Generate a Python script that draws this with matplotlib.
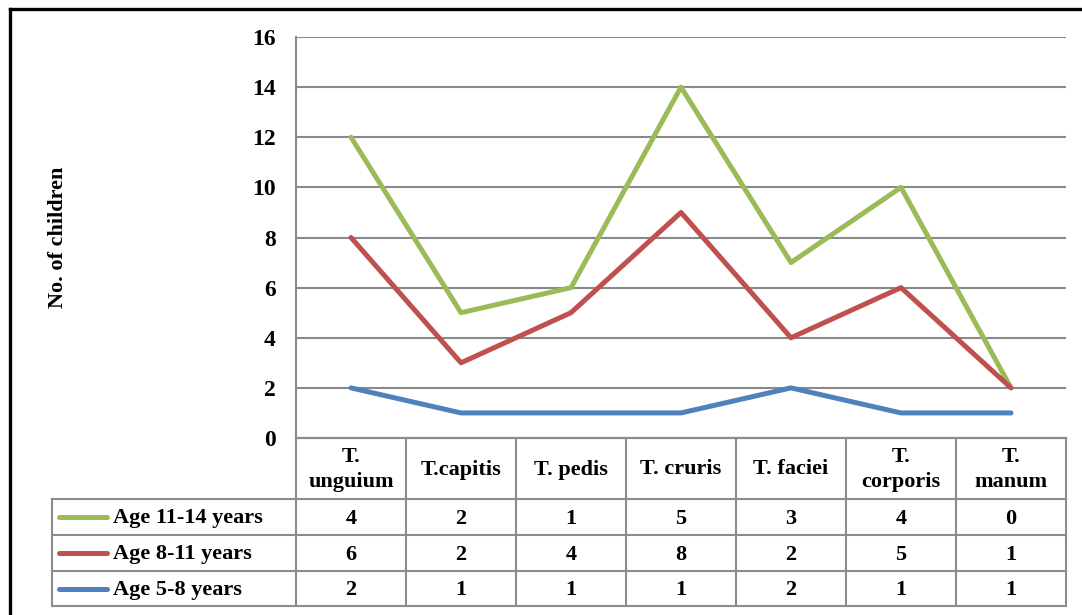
import matplotlib
matplotlib.use('Agg')
import matplotlib.pyplot as plt
import numpy as np

# ---- data ----
categories = ["T.\nunguium", "T.capitis", "T. pedis", "T. cruris", "T. faciei", "T.\ncorporis", "T.\nmanum"]
age_5_8 = [2, 1, 1, 1, 2, 1, 1]
age_8_11 = [6, 2, 4, 8, 2, 5, 1]
age_11_14 = [4, 2, 1, 5, 3, 4, 0]
series_labels = ["Age 11-14 years", "Age 8-11 years", "Age 5-8 years"]
series_colors = ["#9BBB59", "#C0504D", "#4F81BD"]
y_ticks = [0, 2, 4, 6, 8, 10, 12, 14, 16]
y_label = "No. of children"

plt.rcParams['font.family'] = ['Liberation Serif', 'DejaVu Serif']
plt.rcParams['font.weight'] = 'bold'

W, H = 1082, 615
fig = plt.figure(figsize=(W / 100, H / 100), dpi=100)

def fx(px):
    return px / W

def fy(py):
    return 1 - py / H

# layout (pixels)
PL, PR, PT, PB = 296, 1066, 37, 438
grid_c = "#898989"
tbl_c = "#8C8C8C"

ax = fig.add_axes([fx(PL), fy(PB), fx(PR) - fx(PL), fy(PT) - fy(PB)])
x = np.arange(len(categories))
s1 = np.array(age_5_8)
s2 = s1 + np.array(age_8_11)
s3 = s2 + np.array(age_11_14)
stacked = [s3, s2, s1]
for vals, col in zip(stacked, series_colors):
    ax.plot(x, vals, color=col, lw=3.6, solid_capstyle='round', solid_joinstyle='round', zorder=3)
ax.set_xlim(-0.5, len(categories) - 0.5)
ax.set_ylim(0, 16)
ax.set_yticks(y_ticks)
ax.set_yticklabels([str(v) for v in y_ticks], fontsize=17, fontweight='bold')
ax.tick_params(axis='y', length=0, pad=14.4)
ax.set_xticks([])
ax.grid(axis='y', color=grid_c, lw=1.5, zorder=1)
for sp in ['top', 'right']:
    ax.spines[sp].set_visible(False)
for sp in ['left', 'bottom']:
    ax.spines[sp].set_color(grid_c)
    ax.spines[sp].set_linewidth(1.5)

fig.text(fx(58), fy(237), y_label, rotation=90, ha='center', va='center',
         fontsize=16, fontweight='bold')

# ---- data table overlay ----
tax = fig.add_axes([0, 0, 1, 1], zorder=5)
tax.set_xlim(0, W)
tax.set_ylim(H, 0)
tax.axis('off')

n = len(categories)
cw = (PR - PL) / n
col_edges = [PL + i * cw for i in range(n + 1)]
row_edges = [PB, 499, 535, 571, 606]
LL = 52

# horizontal lines
tax.plot([PL, PR], [row_edges[0]] * 2, color=tbl_c, lw=1.5)
for r in row_edges[1:]:
    tax.plot([LL, PR], [r, r], color=tbl_c, lw=1.5)
# vertical lines
tax.plot([PL, PL], [PB, row_edges[-1]], color=tbl_c, lw=1.5)
for c in col_edges[1:]:
    tax.plot([c, c], [PB, row_edges[-1]], color=tbl_c, lw=1.5)
tax.plot([LL, LL], [row_edges[1], row_edges[-1]], color=tbl_c, lw=1.5)

# header text
for i, cat in enumerate(categories):
    cx = (col_edges[i] + col_edges[i + 1]) / 2
    cy = (row_edges[0] + row_edges[1]) / 2 + 1
    tax.text(cx, cy, cat, ha='center', va='center', fontsize=16, fontweight='bold',
             linespacing=1.3)

raw = [age_11_14, age_8_11, age_5_8]
for r, (lab, col, vals) in enumerate(zip(series_labels, series_colors, raw)):
    cy = (row_edges[r + 1] + row_edges[r + 2]) / 2
    tax.plot([59, 107], [cy, cy], color=col, lw=3.6, solid_capstyle='round')
    tax.text(113, cy + 1.5, lab, ha='left', va='center', fontsize=16, fontweight='bold')
    for i, v in enumerate(vals):
        cx = (col_edges[i] + col_edges[i + 1]) / 2
        tax.text(cx, cy + 1.5, str(v), ha='center', va='center', fontsize=16, fontweight='bold')

# outer frame (left and top edges visible)
tax.plot([10, 10], [8.5, H + 5], color='black', lw=2.4, clip_on=False)
tax.plot([10, W + 5], [8.5, 8.5], color='black', lw=2.4, clip_on=False)

fig.savefig('out.png', dpi=100)
